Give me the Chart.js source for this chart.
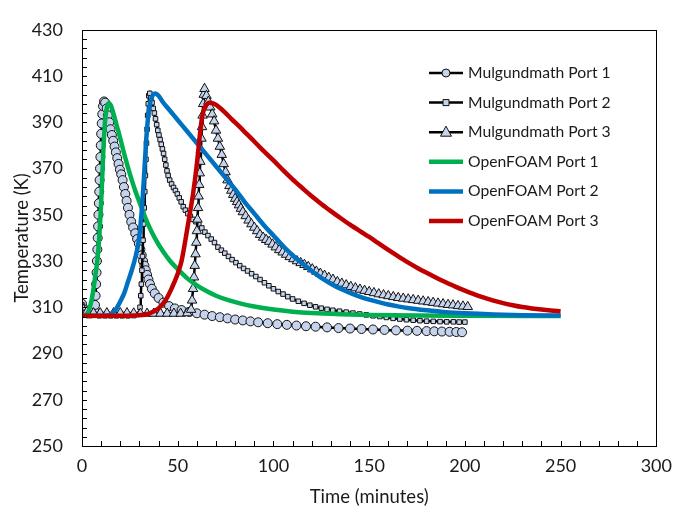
<!DOCTYPE html>
<html>
<head>
<meta charset="utf-8">
<script src="https://cdn.jsdelivr.net/npm/chart.js@4.4.1/dist/chart.umd.min.js"></script>
<style>
  html, body { margin: 0; padding: 0; background: #fff; }
  #wrap { width: 681px; height: 513px; }
</style>
</head>
<body>
<div id="wrap"><canvas id="chart" width="681" height="513"></canvas></div>
<script>
// Mulgundmath measurements (markers)
var mulTime1 = [0, 1.5, 3, 4.5, 5.5, 6.3, 6.8, 7.1, 7.4, 7.6, 7.8, 8.0, 8.2, 8.4, 8.6, 8.8, 9.0, 9.2, 9.4, 9.6, 9.8, 10.0, 10.3, 10.6, 11.0, 11.5, 12.1,
  12.9, 13.5, 14.2, 14.9, 15.6, 16.3, 17.0, 17.7, 18.4, 19.1, 19.8, 20.5, 21.2, 21.9, 22.6, 23.3, 24.0, 24.8, 25.7, 26.7, 27.8, 28.8, 29.7,
  30.5, 31.2, 31.9, 32.6, 33.3, 34.0, 34.7, 35.5, 36.5, 38, 40, 42.5, 45.5, 48.5, 52, 56, 60, 64, 68, 72, 76, 80, 84, 88, 92, 97, 102,
  107, 112, 117, 122, 128, 134, 140, 146, 152, 158, 164, 170, 175, 180, 184, 188, 192, 195.5, 198.5];
var mulTemp1 = [311.5, 309, 307.3, 307.3, 307.5, 308.5, 311, 315, 320, 325, 330, 335, 340, 345, 350, 355, 360, 365, 370, 375, 380, 385, 389.5, 393.5, 397, 399, 398.5,
  396, 393, 390, 387, 384.5, 382, 379.5, 377, 374.5, 372, 369.5, 367.5, 365, 362, 359, 356, 353, 350, 347, 344.5, 342, 339.5, 337.5,
  335, 332.5, 330, 328, 326, 324, 322, 320, 318, 316, 314, 312, 310.5, 309.5, 308.8, 308, 307.4, 306.8, 306.2, 305.7, 305.2, 304.7, 304.3, 303.9, 303.5, 303.1, 302.7,
  302.4, 302.1, 301.8, 301.6, 301.3, 301, 300.8, 300.6, 300.4, 300.2, 300, 299.9, 299.8, 299.7, 299.6, 299.5, 299.4, 299.3, 299.2];

var mulTime2 = [0, 1.5, 3.5, 6, 9, 12, 15, 18, 21, 24, 27, 29.8, 30.3, 30.7, 31.0, 31.3, 31.6, 31.9, 32.2, 32.5, 32.8, 33.1, 33.4, 33.7, 34.0, 34.3, 34.6, 34.9, 35.4,
  36.0, 36.6, 37.2, 37.8, 38.4, 39.0, 39.6, 40.2, 40.8, 41.4, 42.0, 42.6, 43.2, 43.8, 44.4, 45.0, 45.8, 46.8, 47.8, 48.8, 49.8, 50.8, 51.8, 52.9,
  54.0, 55.3, 56.6, 58.0, 59.5, 61.0, 62.6, 64.2, 65.8, 67.5, 69.2, 71.0, 72.8, 74.6, 76.5, 78.4, 80.4, 82.4, 84.4, 86.5, 88.6, 90.8, 93.0, 95.3,
  97.6, 100, 102.5, 105, 107.5, 110, 113, 116, 119, 122, 125, 128, 131, 134.5, 138, 141.5, 145, 148.5, 152, 155.5, 159, 162.5, 166, 169.5, 173,
  176.5, 180, 183.5, 187, 190.5, 194, 197, 200];
var mulTemp2 = [311, 308.5, 306.8, 306.5, 306.3, 306.3, 306.3, 306.3, 306.3, 306.3, 306.4, 307, 310, 315, 320, 326, 332, 339, 346, 353, 360, 367, 374, 381, 387, 393, 398, 401.5, 402.5,
  400.5, 398.5, 396, 394, 391.5, 389, 386.5, 384.5, 382.5, 380.5, 378.5, 376.5, 374, 371.5, 369, 367, 365, 363.3, 361.8, 360.5, 359, 357.3, 355.6, 353.5,
  352, 350.5, 349.3, 348, 347, 345.8, 344.3, 342.5, 341, 339.5, 338, 336, 334.7, 333.4, 332, 330.6, 329.3, 328, 326.8, 325.7, 324.5, 323.3, 322, 320.6,
  319.3, 318, 316.8, 315.7, 314.6, 313.6, 312.6, 311.7, 310.9, 310.2, 309.6, 309.1, 308.7, 308.3, 307.9, 307.5, 307.1, 306.7, 306.3, 306, 305.6, 305.2, 304.9, 304.6, 304.4,
  304.2, 304, 303.9, 303.8, 303.7, 303.7, 303.6, 303.6];

var mulTime3 = [0, 2.5, 6, 9.5, 13, 16.5, 20, 23.5, 27, 30.5, 34, 37.5, 41, 44.5, 48, 51.5, 55, 57.0, 57.5, 58.0, 58.5, 58.9, 59.3, 59.7, 60.0, 60.3, 60.6, 60.9,
  61.2, 61.5, 61.8, 62.1, 62.4, 62.7, 63.0, 63.3, 63.6, 64.0, 65, 66, 67, 68, 69, 70, 71, 72, 73, 74, 75, 76, 77, 78, 79, 80, 81, 82, 83, 84,
  85.5, 87, 88.5, 90, 91.5, 93, 94.6, 96.2, 97.8, 99.5, 101.2, 103, 104.8, 106.6, 108.5, 110.4, 112.3, 114.2, 116.2, 118.2, 120.3, 122.4, 124.5,
  126.7, 128.9, 131.1, 133.4, 135.7, 138, 140.4, 142.8, 145.2, 147.6, 150, 152.5, 155, 157.5, 160, 162.6, 165.2, 167.8, 170.4, 173, 175.6,
  178.2, 180.8, 183.4, 186, 188.6, 191.2, 193.8, 196.4, 199, 201.5];
var mulTemp3 = [310, 308, 307.5, 307.5, 307.5, 307.5, 307.5, 307.5, 307.4, 307.3, 307.3, 307.3, 307.3, 307.3, 307.3, 307.3, 307.5, 309, 313, 318, 323, 328, 333, 338, 343, 348, 353, 358,
  363, 368, 373, 378, 383, 388, 393, 398, 402, 404.5, 401.5, 399, 396.5, 393.5, 390.5, 386.5, 383, 379.5, 376, 372, 368.5, 365, 362.5, 360.5, 358.7, 357, 355.6, 354.2, 352.7, 351.2,
  349.5, 347.6, 346, 344.5, 343, 341.4, 340.2, 339.2, 338.4, 337.2, 336, 334.8, 333.8, 332.8, 331.8, 330.9, 330, 329.2, 328.4, 327.5, 326.5, 325.5, 324.6,
  323.7, 322.8, 322, 321, 320.3, 319.6, 318.9, 318.3, 317.7, 317.2, 316.7, 316.2, 315.7, 315.3, 314.9, 314.5, 314.1, 313.8, 313.5, 313.2, 312.9,
  312.6, 312.3, 312, 311.7, 311.4, 311.1, 310.9, 310.6, 310.4, 310.2];

// OpenFOAM results (lines)
var foamTime1 = [0, 2, 3.5, 5, 6, 7, 8, 9, 10, 11, 12, 13, 14, 15, 16, 18, 20, 22, 24, 26, 28, 30, 32, 35, 38, 42, 46, 50, 55, 60, 65, 70, 76, 82, 90, 100, 110, 120, 135, 150, 175, 200, 250];
var foamTemp1 = [306.3, 306.8, 308.5, 313, 318, 324, 330, 340, 355, 375, 390, 396.5, 398.2, 397.5, 395, 389, 383, 376.5, 370.5, 365, 360, 355.5, 351, 345, 340, 334.5, 330, 326.5, 322.5, 319.5, 317, 315, 313.2, 311.8, 310.3, 309, 308.1, 307.5, 307, 306.7, 306.4, 306.3, 306.2];

var foamTime2 = [0, 10, 14, 16, 18, 20, 22, 24, 26, 28, 29.5, 30.5, 31.5, 32.5, 33.5, 34.5, 35.5, 36.8, 38.3, 40, 42, 46, 50, 55, 60, 65, 70, 75, 80, 85, 90, 95, 100, 105, 110, 115, 120, 125, 130, 135, 140, 145, 150, 155, 160, 165, 170, 180, 190, 200, 215, 230, 250];
var foamTemp2 = [306.3, 306.3, 306.5, 307.5, 309.5, 312.5, 316, 321, 326, 332, 338, 345, 355, 368, 382, 392, 398, 401.5, 402.5, 401.5, 399, 395, 391, 386, 381, 376, 371, 366, 361, 355.5, 350.5, 345.5, 341, 336.5, 332.5, 329, 325.7, 322.7, 320.2, 318, 316.2, 314.6, 313.3, 312.2, 311.2, 310.4, 309.7, 308.7, 307.9, 307.4, 306.9, 306.6, 306.4];

var foamTime3 = [0, 20, 30, 35, 40, 44, 47, 50, 52, 54, 56, 58, 60, 61.5, 62.5, 63.5, 64.5, 66.5, 69, 72, 75, 78, 82, 86, 90, 94, 100, 105, 110, 115, 120, 125, 130, 135, 140, 145, 150, 155, 160, 165, 170, 175, 180, 185, 190, 195, 200, 205, 210, 215, 220, 225, 230, 235, 240, 245, 250];
var foamTemp3 = [306.3, 306.3, 306.5, 307.3, 309.5, 313.5, 318.5, 324.5, 330, 339, 349, 359, 372, 384, 391, 395, 397, 398.5, 398, 396.3, 394, 391.5, 388.3, 385, 381.7, 378.3, 373.5, 369.3, 365.3, 361.6, 358, 354.7, 351.6, 348.6, 345.7, 343, 340.4, 337.6, 334.8, 332.1, 329.5, 327.1, 324.9, 322.8, 320.8, 318.9, 317.2, 315.6, 314.2, 312.9, 311.8, 310.9, 310.1, 309.5, 309, 308.6, 308.3];

var seriesNames = ["Mulgundmath Port 1", "Mulgundmath Port 2", "Mulgundmath Port 3", "OpenFOAM Port 1", "OpenFOAM Port 2", "OpenFOAM Port 3"];
var xTicks = [0, 50, 100, 150, 200, 250, 300];
var yTicks = [250, 270, 290, 310, 330, 350, 370, 390, 410, 430];

var fontFamily = "Lato, 'Liberation Sans', sans-serif";
var textColor = "#1a1a1a";
var markerFill = "#c6d3ec";

function pairs(xs, ys) {
  return xs.map(function (x, i) { return { x: x, y: ys[i] }; });
}

function markerSet(label, xs, ys, style, radius, order) {
  return {
    label: label,
    data: pairs(xs, ys),
    showLine: true,
    borderColor: "#000",
    borderWidth: 2.5,
    pointStyle: style,
    pointRadius: radius,
    pointBackgroundColor: markerFill,
    pointBorderColor: "#111",
    pointBorderWidth: 1,
    tension: 0,
    order: order
  };
}

function lineSet(label, xs, ys, color, order) {
  return {
    label: label,
    data: pairs(xs, ys),
    showLine: true,
    borderColor: color,
    backgroundColor: color,
    borderWidth: 4.5,
    pointRadius: 0,
    cubicInterpolationMode: "monotone",
    order: order
  };
}

// inside tick marks + plot frame
var framePlugin = {
  id: "frame",
  afterDatasetsDraw: function (chart) {
    var ctx = chart.ctx, a = chart.chartArea;
    var xs = chart.scales.x, ys = chart.scales.y;
    ctx.save();
    ctx.strokeStyle = "#000";
    ctx.lineWidth = 1;
    ctx.strokeRect(Math.round(a.left) + 0.5, Math.round(a.top) + 0.5, Math.round(a.right - a.left), Math.round(a.bottom - a.top));
    ctx.beginPath();
    var i, p;
    for (i = 0; i <= 30; i++) {
      p = Math.round(xs.getPixelForValue(i * 10)) + 0.5;
      ctx.moveTo(p, a.bottom);
      ctx.lineTo(p, a.bottom - 5);
    }
    for (i = 0; i <= 45; i++) {
      p = Math.round(ys.getPixelForValue(250 + i * 4)) + 0.5;
      ctx.moveTo(a.left, p);
      ctx.lineTo(a.left + 5, p);
    }
    ctx.stroke();
    ctx.restore();
  }
};

// Excel style legend: line sample with marker
var legendPlugin = {
  id: "sideLegend",
  afterDraw: function (chart) {
    var ctx = chart.ctx;
    var x0 = 429, x1 = 463, top = 73, rowH = 29.6;
    ctx.save();
    ctx.font = "15.7px " + fontFamily;
    ctx.textBaseline = "middle";
    chart.data.datasets.forEach(function (ds, i) {
      var y = top + i * rowH;
      ctx.strokeStyle = ds.borderColor;
      ctx.lineWidth = ds.borderWidth;
      ctx.beginPath();
      ctx.moveTo(x0, y);
      ctx.lineTo(x1, y);
      ctx.stroke();
      if (ds.pointRadius > 0) {
        var cx = (x0 + x1) / 2;
        ctx.fillStyle = markerFill;
        ctx.strokeStyle = "#111";
        ctx.lineWidth = 1;
        ctx.beginPath();
        if (ds.pointStyle === "circle") {
          ctx.arc(cx, y, 4, 0, Math.PI * 2);
        } else if (ds.pointStyle === "rect") {
          ctx.rect(cx - 3, y - 3, 6, 6);
        } else {
          ctx.moveTo(cx, y - 6);
          ctx.lineTo(cx + 5.5, y + 4);
          ctx.lineTo(cx - 5.5, y + 4);
          ctx.closePath();
        }
        ctx.fill();
        ctx.stroke();
      }
      ctx.fillStyle = textColor;
      ctx.fillText(ds.label, x1 + 5, y);
    });
    ctx.restore();
  }
};

var ctx = document.getElementById("chart").getContext("2d");
new Chart(ctx, {
  type: "scatter",
  data: {
    datasets: [
      markerSet(seriesNames[0], mulTime1, mulTemp1, "circle", 4.5, 6),
      markerSet(seriesNames[1], mulTime2, mulTemp2, "rect", 3.2, 5),
      markerSet(seriesNames[2], mulTime3, mulTemp3, "triangle", 5.5, 4),
      lineSet(seriesNames[3], foamTime1, foamTemp1, "#00b050", 3),
      lineSet(seriesNames[4], foamTime2, foamTemp2, "#0070c0", 2),
      lineSet(seriesNames[5], foamTime3, foamTemp3, "#c00000", 1)
    ]
  },
  options: {
    responsive: false,
    animation: false,
    layout: { padding: { left: 0, top: 15, right: 21, bottom: 0 } },
    plugins: {
      legend: { display: false },
      tooltip: { enabled: false }
    },
    scales: {
      x: {
        type: "linear",
        min: 0,
        max: 300,
        afterBuildTicks: function (scale) {
          scale.ticks = xTicks.map(function (v) { return { value: v }; });
        },
        afterFit: function (scale) { scale.height = 67; },
        grid: { display: false, drawTicks: false },
        border: { display: false },
        ticks: { padding: 9, color: textColor, font: { family: fontFamily, size: 18 }, maxRotation: 0 },
        title: { display: true, text: "Time (minutes)", color: textColor, font: { family: fontFamily, size: 18.5 }, padding: { top: 0, bottom: 5 } }
      },
      y: {
        type: "linear",
        min: 250,
        max: 430,
        afterBuildTicks: function (scale) {
          scale.ticks = yTicks.map(function (v) { return { value: v }; });
        },
        afterFit: function (scale) { scale.width = 82; },
        grid: { display: false, drawTicks: false },
        border: { display: false },
        ticks: { padding: 19, color: textColor, font: { family: fontFamily, size: 18 } },
        title: { display: true, text: "Temperature (K)", color: textColor, font: { family: fontFamily, size: 18.5 }, padding: { top: 11, bottom: 0 } }
      }
    }
  },
  plugins: [framePlugin, legendPlugin]
});
</script>
</body>
</html>
